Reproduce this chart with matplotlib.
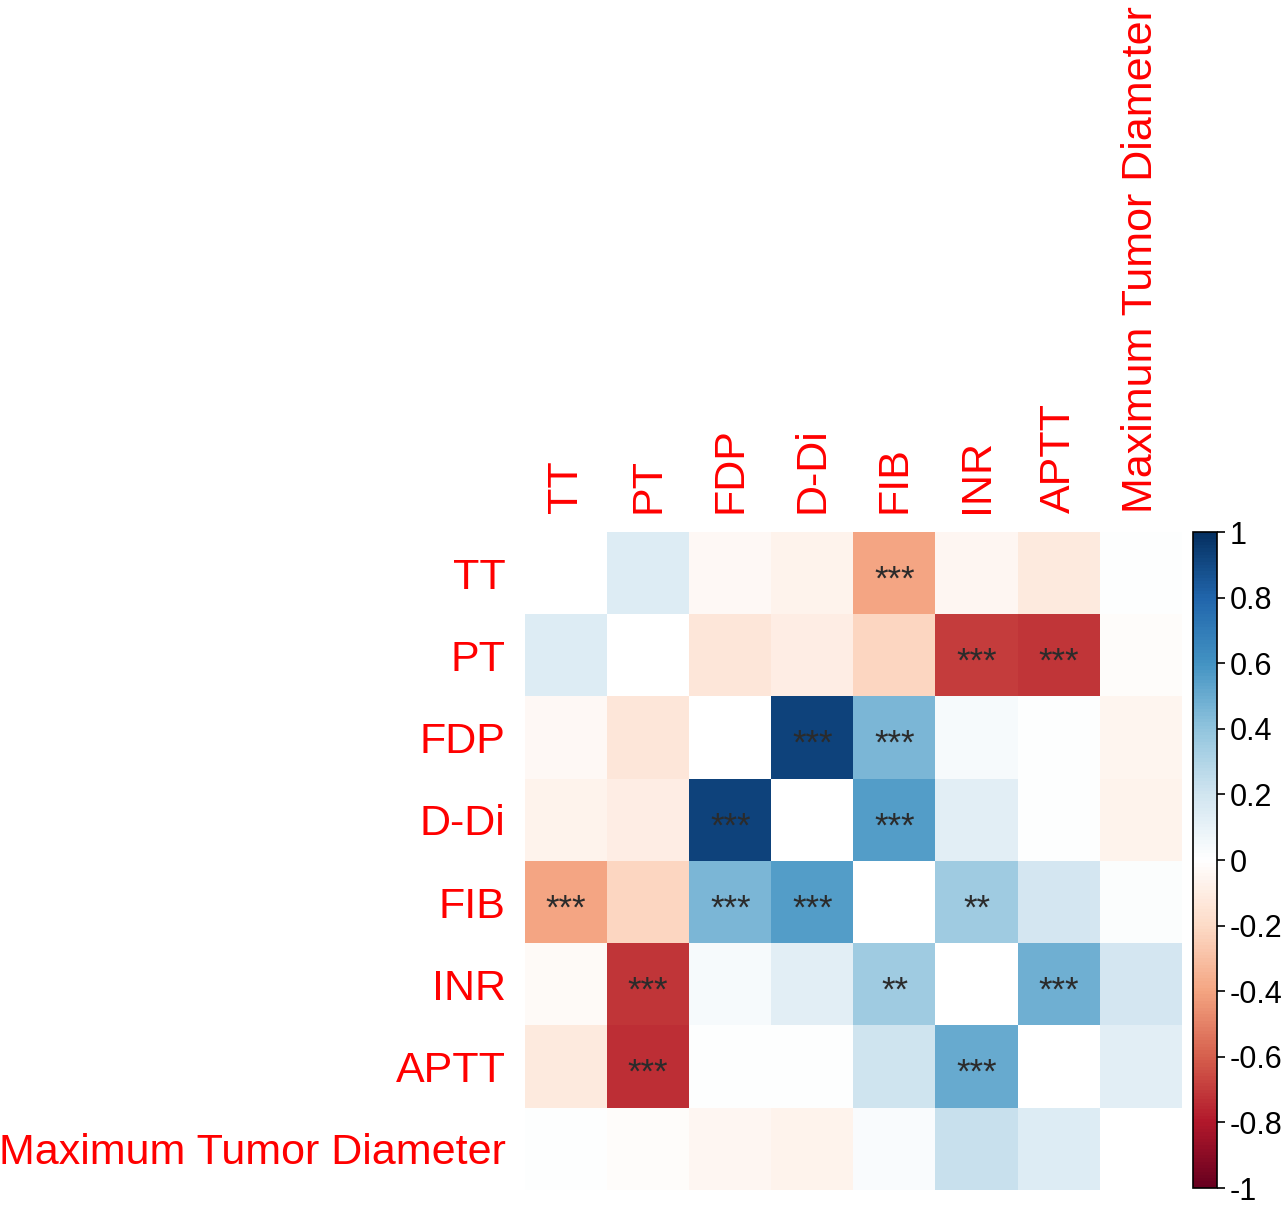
import numpy as np
import matplotlib
matplotlib.use("Agg")
import matplotlib.pyplot as plt
from matplotlib.colors import LinearSegmentedColormap

plt.rcParams['font.family'] = ['Liberation Sans', 'DejaVu Sans']

# variables (row/column order)
names = ["TT", "PT", "FDP", "D-Di", "FIB", "INR", "APTT", "Maximum Tumor Diameter"]

# correlation coefficients (diagonal left blank)
corr = [
    [np.nan, 0.15, -0.04, -0.07, -0.40, -0.05, -0.12, 0.00],
    [0.15, np.nan, -0.14, -0.10, -0.22, -0.70, -0.72, -0.02],
    [-0.04, -0.14, np.nan, 0.92, 0.45, 0.03, 0.00, -0.06],
    [-0.07, -0.10, 0.92, np.nan, 0.55, 0.12, 0.00, -0.07],
    [-0.40, -0.22, 0.45, 0.55, np.nan, 0.35, 0.18, 0.01],
    [-0.03, -0.72, 0.03, 0.12, 0.35, np.nan, 0.48, 0.18],
    [-0.12, -0.74, 0.00, 0.00, 0.20, 0.50, np.nan, 0.12],
    [0.00, -0.02, -0.05, -0.07, 0.02, 0.22, 0.15, np.nan],
]

# significance marks
stars = [
    ["", "", "", "", "***", "", "", ""],
    ["", "", "", "", "", "***", "***", ""],
    ["", "", "", "***", "***", "", "", ""],
    ["", "", "***", "", "***", "", "", ""],
    ["***", "", "***", "***", "", "**", "", ""],
    ["", "***", "", "", "**", "", "***", ""],
    ["", "***", "", "", "", "***", "", ""],
    ["", "", "", "", "", "", "", ""],
]

cbar_ticks = [1, 0.8, 0.6, 0.4, 0.2, 0, -0.2, -0.4, -0.6, -0.8, -1]

# corrplot style RdBu with a pure white middle
rdbu = LinearSegmentedColormap.from_list("rdbu_white", [
    "#67001F", "#B2182B", "#D6604D", "#F4A582", "#FDDBC7", "#FFFFFF",
    "#D1E5F0", "#92C5DE", "#4393C3", "#2166AC", "#053061"], N=200)

fig = plt.figure(figsize=(12.82, 12.12), dpi=100)
ax = fig.add_axes([525/1282, 22/1212, 657/1282, 658/1212])

data = np.array(corr)
im = ax.imshow(data, cmap=rdbu, vmin=-1, vmax=1, aspect="auto",
               interpolation="nearest")

n = len(names)
for i in range(n):
    for j in range(n):
        if stars[i][j]:
            ax.text(j, i + 0.2, stars[i][j], ha="center", va="baseline",
                    fontsize=25, color="#2b2b2b")

ax.set_xticks(range(n))
ax.set_yticks(range(n))
ax.set_xticklabels(names, rotation=90, color="red", fontsize=31)
ax.set_yticklabels(names, color="red", fontsize=31)
ax.xaxis.tick_top()
ax.tick_params(length=0, pad=14)
for s in ax.spines.values():
    s.set_visible(False)

# colour bar
cax = fig.add_axes([1193/1282, 24/1212, 24/1282, 656/1212])
cb = fig.colorbar(im, cax=cax, ticks=cbar_ticks)
cb.ax.set_yticklabels([("%g" % t) for t in cbar_ticks], fontsize=22)
cb.ax.tick_params(length=6, width=1.2, pad=3)
cb.outline.set_linewidth(1.2)

fig.savefig("out.png", dpi=100, facecolor="white")
